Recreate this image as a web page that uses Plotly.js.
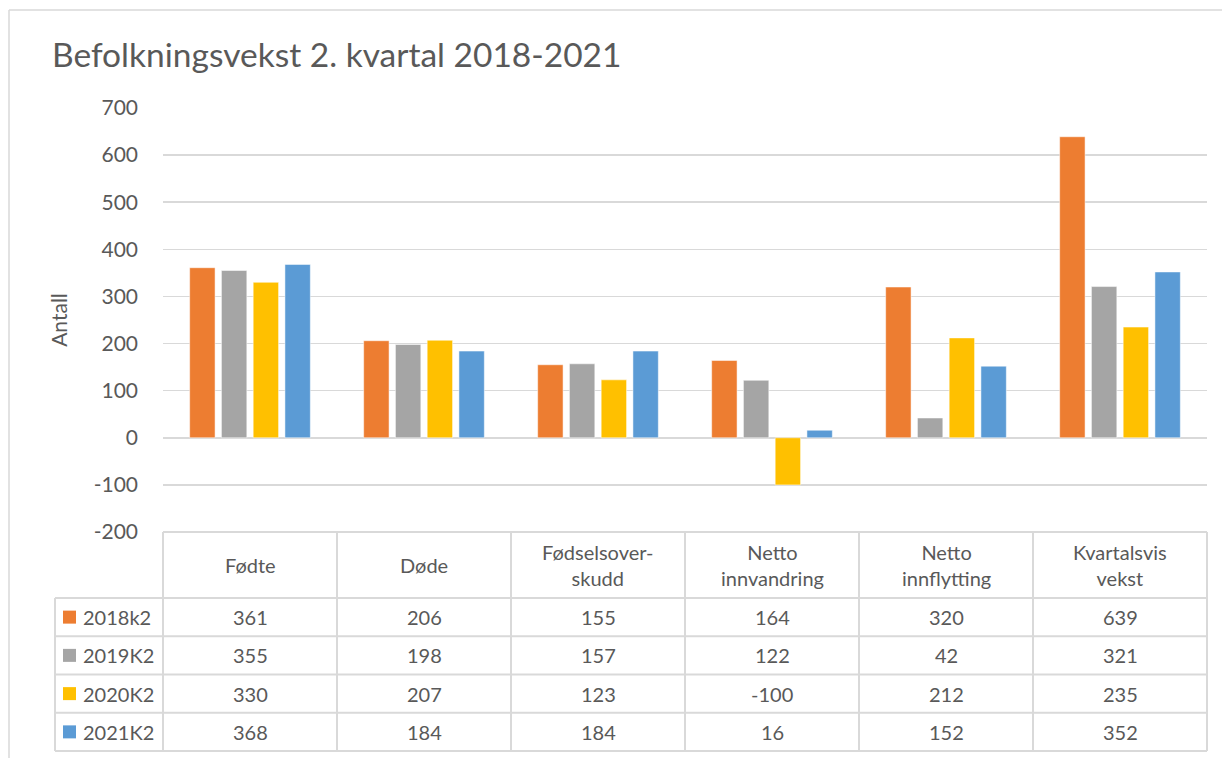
<!DOCTYPE html>
<html>
<head>
<meta charset="utf-8">
<script src="https://cdn.plot.ly/plotly-3.0.1.min.js"></script>
<style>html,body{margin:0;padding:0;background:#fff;}#chart{width:1222px;height:758px;}</style>
</head>
<body>
<div id="chart"></div>
<script>
// ---- data ----
const categories = ["Fødte", "Døde", "Fødselsover-skudd", "Netto innvandring", "Netto innflytting", "Kvartalsvis vekst"];
const categoryLabels = ["Fødte", "Døde", "Fødselsover-<br>skudd", "Netto<br>innvandring", "Netto<br>innflytting", "Kvartalsvis<br>vekst"];
const seriesNames = ["2018k2", "2019K2", "2020K2", "2021K2"];
const s2018 = [361, 206, 155, 164, 320, 639];
const s2019 = [355, 198, 157, 122, 42, 321];
const s2020 = [330, 207, 123, -100, 212, 235];
const s2021 = [368, 184, 184, 16, 152, 352];
const seriesValues = [s2018, s2019, s2020, s2021];
const seriesColors = ["#ED7D31", "#A5A5A5", "#FFC000", "#5B9BD5"];
const yTicks = [-200, -100, 0, 100, 200, 300, 400, 500, 600, 700];

// ---- layout geometry ----
const W = 1222, H = 758;
const ml = 163, mr = 15, mt = 108, mb = 226;
const pw = W - ml - mr, ph = H - mt - mb;
const px = x => (x - ml) / pw;          // pixel -> paper x
const py = y => (H - mb - y) / ph;      // pixel -> paper y
const FONT = "Lato, 'Open Sans', sans-serif";
const gridColor = "#D9D9D9";
const textColor = "#595959";
const TSIZE = 20;

const traces = seriesNames.map((n, i) => ({
  type: "bar",
  name: n,
  x: categories,
  y: seriesValues[i],
  marker: {color: seriesColors[i], line: {color: "rgba(255,255,255,0.5)", width: 1}},
  hoverinfo: "x+y+name"
}));

const shapes = [];
const annotations = [];
// outer chart border (top & left)
shapes.push({type: "line", xref: "paper", yref: "paper", x0: px(9), x1: px(1222), y0: py(10), y1: py(10), line: {color: "#D9D9D9", width: 1.5}});
shapes.push({type: "line", xref: "paper", yref: "paper", x0: px(9), x1: px(9), y0: py(10), y1: py(758), line: {color: "#D9D9D9", width: 1.5}});

// data table
const tTop = 532, headBot = 598, rowH = 38.25;
const tBot = headBot + rowH * seriesNames.length;
const colW = pw / categories.length;
const lineStyle = {color: gridColor, width: 2};
shapes.push({type: "line", xref: "paper", yref: "paper", x0: px(ml), x1: px(W - mr), y0: py(tTop), y1: py(tTop), line: lineStyle});
for (let r = 0; r <= seriesNames.length; r++) {
  const y = headBot + r * rowH;
  shapes.push({type: "line", xref: "paper", yref: "paper", x0: px(55), x1: px(W - mr), y0: py(y), y1: py(y), line: lineStyle});
}
shapes.push({type: "line", xref: "paper", yref: "paper", x0: px(55), x1: px(55), y0: py(headBot), y1: py(tBot), line: lineStyle});
for (let c = 0; c <= categories.length; c++) {
  const x = ml + c * colW;
  shapes.push({type: "line", xref: "paper", yref: "paper", x0: px(x), x1: px(x), y0: py(tTop), y1: py(tBot), line: lineStyle});
}
categoryLabels.forEach((lab, c) => {
  annotations.push({xref: "paper", yref: "paper", x: px(ml + (c + 0.5) * colW), y: py((tTop + headBot) / 2),
    text: lab, showarrow: false, xanchor: "center", yanchor: "middle",
    font: {family: FONT, size: TSIZE, color: textColor}});
});
seriesNames.forEach((n, r) => {
  const yc = headBot + (r + 0.5) * rowH;
  shapes.push({type: "rect", xref: "paper", yref: "paper", x0: px(63), x1: px(76), y0: py(yc - 6.5), y1: py(yc + 6.5),
    fillcolor: seriesColors[r], line: {width: 0}});
  annotations.push({xref: "paper", yref: "paper", x: px(81), y: py(yc), text: n, showarrow: false,
    xanchor: "left", yanchor: "middle", font: {family: FONT, size: TSIZE, color: textColor}});
  seriesValues[r].forEach((v, c) => {
    annotations.push({xref: "paper", yref: "paper", x: px(ml + (c + 0.5) * colW), y: py(yc), text: String(v),
      showarrow: false, xanchor: "center", yanchor: "middle", font: {family: FONT, size: TSIZE, color: textColor}});
  });
});

const layout = {
  width: W, height: H,
  margin: {l: ml, r: mr, t: mt, b: mb, pad: 0},
  paper_bgcolor: "#fff", plot_bgcolor: "#fff",
  barmode: "group", bargap: 0.27, bargroupgap: 0.2,
  showlegend: false,
  title: {text: "Befolkningsvekst 2. kvartal 2018-2021", x: 52 / W, xanchor: "left", y: 1 - 55 / H, yanchor: "middle",
    font: {family: FONT, size: 33.5, color: textColor}},
  xaxis: {type: "category", showticklabels: false, showgrid: false, zeroline: false, showline: false, ticks: "", fixedrange: true},
  yaxis: {range: [-200, 700], tickvals: yTicks, ticktext: yTicks.map(String), showgrid: true, gridcolor: gridColor, gridwidth: 1.5,
    zeroline: false, showline: false, ticks: "", ticklabelstandoff: 24,
    tickfont: {family: FONT, size: 21, color: textColor},
    title: {text: "Antall", standoff: 20, font: {family: FONT, size: 21, color: textColor}}},
  shapes: shapes,
  annotations: annotations
};

Plotly.newPlot("chart", traces, layout, {displayModeBar: false, staticPlot: true});
</script>
</body>
</html>
